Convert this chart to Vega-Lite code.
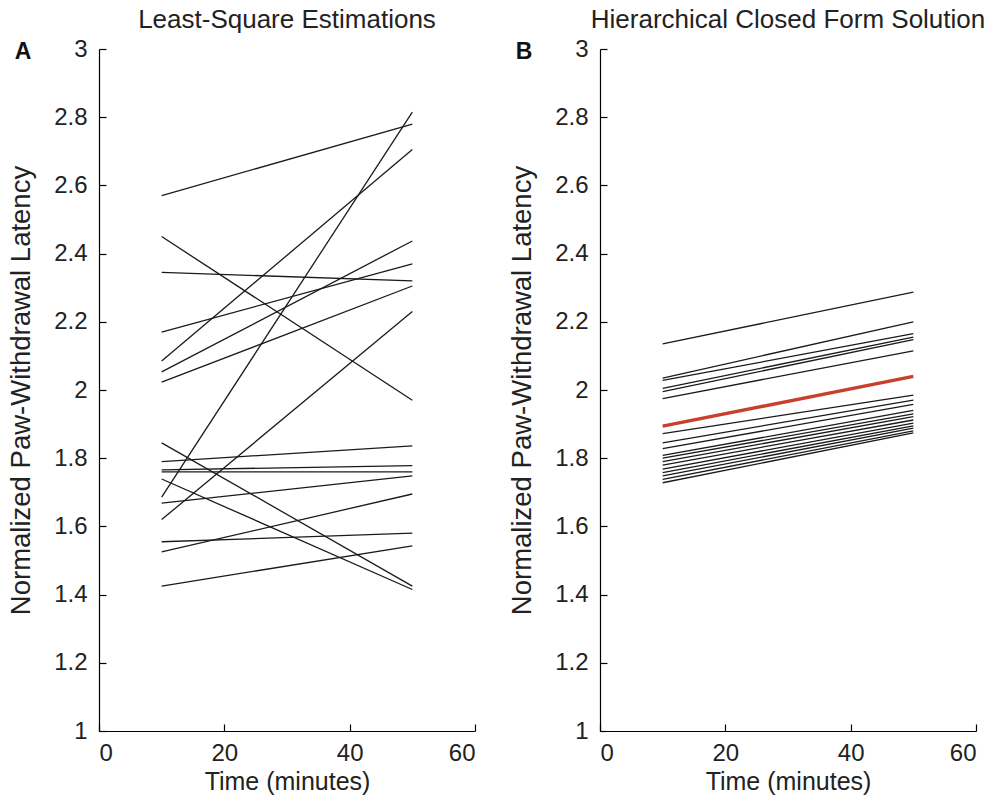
{
  "$schema": "https://vega.github.io/schema/vega-lite/v6.json",
  "background": "white",
  "padding": {"left": 7, "top": 7, "right": 5, "bottom": 5},
  "spacing": 32,
  "datasets": {
    "pts": [
      {"panel": "A", "id": "a1", "kind": "subject", "time": 10, "value": 2.57}, {"panel": "A", "id": "a1", "kind": "subject", "time": 50, "value": 2.78},
      {"panel": "A", "id": "a2", "kind": "subject", "time": 10, "value": 2.45}, {"panel": "A", "id": "a2", "kind": "subject", "time": 50, "value": 1.97},
      {"panel": "A", "id": "a3", "kind": "subject", "time": 10, "value": 2.345}, {"panel": "A", "id": "a3", "kind": "subject", "time": 50, "value": 2.32},
      {"panel": "A", "id": "a4", "kind": "subject", "time": 10, "value": 2.17}, {"panel": "A", "id": "a4", "kind": "subject", "time": 50, "value": 2.37},
      {"panel": "A", "id": "a5", "kind": "subject", "time": 10, "value": 2.085}, {"panel": "A", "id": "a5", "kind": "subject", "time": 50, "value": 2.705},
      {"panel": "A", "id": "a6", "kind": "subject", "time": 10, "value": 2.053}, {"panel": "A", "id": "a6", "kind": "subject", "time": 50, "value": 2.437},
      {"panel": "A", "id": "a7", "kind": "subject", "time": 10, "value": 2.023}, {"panel": "A", "id": "a7", "kind": "subject", "time": 50, "value": 2.305},
      {"panel": "A", "id": "a8", "kind": "subject", "time": 10, "value": 1.845}, {"panel": "A", "id": "a8", "kind": "subject", "time": 50, "value": 1.425},
      {"panel": "A", "id": "a9", "kind": "subject", "time": 10, "value": 1.79}, {"panel": "A", "id": "a9", "kind": "subject", "time": 50, "value": 1.836},
      {"panel": "A", "id": "a10", "kind": "subject", "time": 10, "value": 1.766}, {"panel": "A", "id": "a10", "kind": "subject", "time": 50, "value": 1.778},
      {"panel": "A", "id": "a11", "kind": "subject", "time": 10, "value": 1.76}, {"panel": "A", "id": "a11", "kind": "subject", "time": 50, "value": 1.76},
      {"panel": "A", "id": "a12", "kind": "subject", "time": 10, "value": 1.739}, {"panel": "A", "id": "a12", "kind": "subject", "time": 50, "value": 1.415},
      {"panel": "A", "id": "a13", "kind": "subject", "time": 10, "value": 1.686}, {"panel": "A", "id": "a13", "kind": "subject", "time": 50, "value": 2.815},
      {"panel": "A", "id": "a14", "kind": "subject", "time": 10, "value": 1.668}, {"panel": "A", "id": "a14", "kind": "subject", "time": 50, "value": 1.748},
      {"panel": "A", "id": "a15", "kind": "subject", "time": 10, "value": 1.62}, {"panel": "A", "id": "a15", "kind": "subject", "time": 50, "value": 2.23},
      {"panel": "A", "id": "a16", "kind": "subject", "time": 10, "value": 1.555}, {"panel": "A", "id": "a16", "kind": "subject", "time": 50, "value": 1.58},
      {"panel": "A", "id": "a17", "kind": "subject", "time": 10, "value": 1.525}, {"panel": "A", "id": "a17", "kind": "subject", "time": 50, "value": 1.695},
      {"panel": "A", "id": "a18", "kind": "subject", "time": 10, "value": 1.425}, {"panel": "A", "id": "a18", "kind": "subject", "time": 50, "value": 1.543},
      {"panel": "B", "id": "b1", "kind": "subject", "time": 10, "value": 2.135}, {"panel": "B", "id": "b1", "kind": "subject", "time": 50, "value": 2.287},
      {"panel": "B", "id": "b2", "kind": "subject", "time": 10, "value": 2.035}, {"panel": "B", "id": "b2", "kind": "subject", "time": 50, "value": 2.2},
      {"panel": "B", "id": "b3", "kind": "subject", "time": 10, "value": 2.028}, {"panel": "B", "id": "b3", "kind": "subject", "time": 50, "value": 2.165},
      {"panel": "B", "id": "b4", "kind": "subject", "time": 10, "value": 2.005}, {"panel": "B", "id": "b4", "kind": "subject", "time": 50, "value": 2.155},
      {"panel": "B", "id": "b5", "kind": "subject", "time": 10, "value": 1.995}, {"panel": "B", "id": "b5", "kind": "subject", "time": 50, "value": 2.148},
      {"panel": "B", "id": "b6", "kind": "subject", "time": 10, "value": 1.975}, {"panel": "B", "id": "b6", "kind": "subject", "time": 50, "value": 2.115},
      {"panel": "B", "id": "b7", "kind": "subject", "time": 10, "value": 1.872}, {"panel": "B", "id": "b7", "kind": "subject", "time": 50, "value": 1.985},
      {"panel": "B", "id": "b8", "kind": "subject", "time": 10, "value": 1.845}, {"panel": "B", "id": "b8", "kind": "subject", "time": 50, "value": 1.97},
      {"panel": "B", "id": "b9", "kind": "subject", "time": 10, "value": 1.828}, {"panel": "B", "id": "b9", "kind": "subject", "time": 50, "value": 1.958},
      {"panel": "B", "id": "b10", "kind": "subject", "time": 10, "value": 1.808}, {"panel": "B", "id": "b10", "kind": "subject", "time": 50, "value": 1.94},
      {"panel": "B", "id": "b11", "kind": "subject", "time": 10, "value": 1.8}, {"panel": "B", "id": "b11", "kind": "subject", "time": 50, "value": 1.93},
      {"panel": "B", "id": "b12", "kind": "subject", "time": 10, "value": 1.79}, {"panel": "B", "id": "b12", "kind": "subject", "time": 50, "value": 1.922},
      {"panel": "B", "id": "b13", "kind": "subject", "time": 10, "value": 1.78}, {"panel": "B", "id": "b13", "kind": "subject", "time": 50, "value": 1.912},
      {"panel": "B", "id": "b14", "kind": "subject", "time": 10, "value": 1.768}, {"panel": "B", "id": "b14", "kind": "subject", "time": 50, "value": 1.903},
      {"panel": "B", "id": "b15", "kind": "subject", "time": 10, "value": 1.758}, {"panel": "B", "id": "b15", "kind": "subject", "time": 50, "value": 1.895},
      {"panel": "B", "id": "b16", "kind": "subject", "time": 10, "value": 1.748}, {"panel": "B", "id": "b16", "kind": "subject", "time": 50, "value": 1.888},
      {"panel": "B", "id": "b17", "kind": "subject", "time": 10, "value": 1.738}, {"panel": "B", "id": "b17", "kind": "subject", "time": 50, "value": 1.88},
      {"panel": "B", "id": "b18", "kind": "subject", "time": 10, "value": 1.728}, {"panel": "B", "id": "b18", "kind": "subject", "time": 50, "value": 1.874},
      {"panel": "B", "id": "mean", "kind": "mean", "time": 10, "value": 1.894}, {"panel": "B", "id": "mean", "kind": "mean", "time": 50, "value": 2.04}
    ]
  },
  "config": {
    "view": {"stroke": null},
    "font": "Liberation Sans",
    "title": {"font": "Liberation Sans", "fontSize": 26, "fontWeight": "normal", "color": "#222222", "offset": 4},
    "axis": {
      "grid": false,
      "domainColor": "#000000",
      "domainWidth": 1.2,
      "tickColor": "#000000",
      "tickWidth": 1.2,
      "labelFont": "Liberation Sans",
      "labelFontSize": 24,
      "labelColor": "#222222",
      "titleFont": "Liberation Sans",
      "titleFontWeight": "normal",
      "titleColor": "#222222"
    },
    "axisX": {"titleFontSize": 25, "titlePadding": 4},
    "axisY": {"titleFontSize": 27.5, "titlePadding": 18}
  },
  "hconcat": [
    {
      "title": {"text": "A", "anchor": "start", "frame": "bounds", "fontWeight": "bold", "fontSize": 23, "color": "#111111", "offset": -57, "dx": 7},
      "vconcat": [
        {
          "width": 376,
          "height": 682,
          "title": {"text": "Least-Square Estimations"},
          "data": {"name": "pts"},
          "transform": [{"filter": "datum.panel === 'A'"}],
          "mark": {"type": "line"},
          "encoding": {
            "x": {"field": "time", "type": "quantitative", "scale": {"domain": [0, 60], "nice": false}, "axis": {"values": [0, 20, 40, 60], "title": "Time (minutes)", "tickSize": -7, "labelPadding": 17}},
            "y": {"field": "value", "type": "quantitative", "scale": {"domain": [1, 3], "nice": false, "zero": false}, "axis": {"values": [1, 1.2, 1.4, 1.6, 1.8, 2, 2.2, 2.4, 2.6, 2.8, 3], "format": "~g", "title": "Normalized Paw-Withdrawal Latency", "tickSize": -7, "labelPadding": 19}},
            "detail": {"field": "id"},
            "color": {"field": "kind", "type": "nominal", "scale": {"domain": ["subject", "mean"], "range": ["#1a1a1a", "#c8402c"]}, "legend": null},
            "strokeWidth": {"field": "kind", "type": "nominal", "scale": {"domain": ["subject", "mean"], "range": [1.3, 3.5]}, "legend": null}
          }
        }
      ]
    },
    {
      "title": {"text": "B", "anchor": "start", "frame": "bounds", "fontWeight": "bold", "fontSize": 23, "color": "#111111", "offset": -57, "dx": 7},
      "vconcat": [
        {
          "width": 376,
          "height": 682,
          "title": {"text": "Hierarchical Closed Form Solution"},
          "data": {"name": "pts"},
          "transform": [{"filter": "datum.panel === 'B'"}],
          "mark": {"type": "line"},
          "encoding": {
            "x": {"field": "time", "type": "quantitative", "scale": {"domain": [0, 60], "nice": false}, "axis": {"values": [0, 20, 40, 60], "title": "Time (minutes)", "tickSize": -7, "labelPadding": 17}},
            "y": {"field": "value", "type": "quantitative", "scale": {"domain": [1, 3], "nice": false, "zero": false}, "axis": {"values": [1, 1.2, 1.4, 1.6, 1.8, 2, 2.2, 2.4, 2.6, 2.8, 3], "format": "~g", "title": "Normalized Paw-Withdrawal Latency", "tickSize": -7, "labelPadding": 19}},
            "detail": {"field": "id"},
            "color": {"field": "kind", "type": "nominal", "scale": {"domain": ["subject", "mean"], "range": ["#1a1a1a", "#c8402c"]}, "legend": null},
            "strokeWidth": {"field": "kind", "type": "nominal", "scale": {"domain": ["subject", "mean"], "range": [1.3, 3.5]}, "legend": null}
          }
        }
      ]
    }
  ]
}
